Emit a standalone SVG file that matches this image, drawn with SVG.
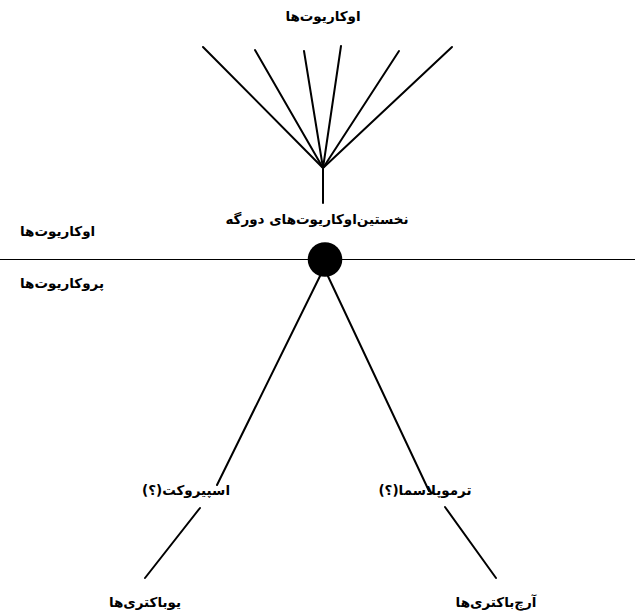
<svg xmlns="http://www.w3.org/2000/svg" width="635" height="615" viewBox="0 0 635 615">
<style>
.t{font-family:"DejaVu Sans","Noto Sans",sans-serif;font-weight:bold;font-size:13.5px;fill:#000;text-anchor:middle;direction:rtl}
.tl{font-family:"DejaVu Sans","Noto Sans",sans-serif;font-weight:bold;font-size:13.5px;fill:#000;text-anchor:start}
.c{stroke:#000;stroke-width:2;fill:none;stroke-linecap:round}
</style>
<rect width="635" height="615" fill="#fff"/>
<g id="divider"><line x1="0" y1="259.5" x2="635" y2="259.5" stroke="#000" stroke-width="1.2"/></g>
<g id="connectors">
<line class="c" x1="323" y1="168" x2="203" y2="47"/>
<line class="c" x1="323" y1="168" x2="255" y2="50"/>
<line class="c" x1="323" y1="168" x2="304" y2="51"/>
<line class="c" x1="323" y1="168" x2="341" y2="46"/>
<line class="c" x1="323" y1="168" x2="399" y2="51"/>
<line class="c" x1="323" y1="168" x2="452" y2="47"/>
<line class="c" x1="323" y1="168" x2="323" y2="203" stroke-width="2.5"/>
<line class="c" x1="322" y1="272" x2="217" y2="485"/>
<line class="c" x1="326" y1="272" x2="429" y2="491"/>
<line class="c" x1="200" y1="508" x2="145" y2="578"/>
<line class="c" x1="445" y1="507" x2="496" y2="578"/>
</g>
<g id="eukaryotes-top"><text class="t" x="323" y="21">اوکاریوت‌ها</text></g>
<g id="first-hybrid"><text class="t" x="317" y="224">نخستین‌اوکاریوت‌های دورگه</text></g>
<g id="root"><circle cx="325" cy="259.5" r="17.3" fill="#000"/></g>
<g id="label-eukaryotes"><text class="tl" x="20" y="236">اوکاریوت‌ها</text></g>
<g id="label-prokaryotes"><text class="tl" x="20" y="288">پروکاریوت‌ها</text></g>
<g id="spirochete"><text class="t" x="186" y="495">اسپیروکت(؟)</text></g>
<g id="thermoplasma"><text class="t" x="425" y="495">ترموپلاسما(؟)</text></g>
<g id="eubacteria"><text class="t" x="145" y="607">یوباکتری‌ها</text></g>
<g id="archaebacteria"><text class="t" x="496" y="607">آرچ‌باکتری‌ها</text></g>
</svg>
